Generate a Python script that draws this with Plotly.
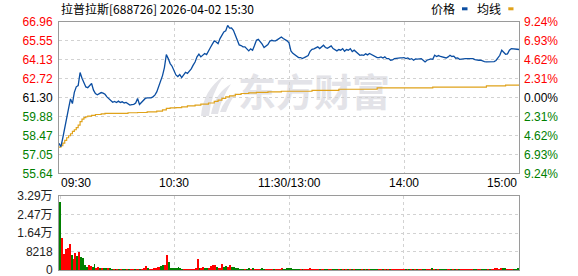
import plotly.graph_objects as go

# ---------------- data ----------------
stock_name = "拉普拉斯"
stock_code = "688726"
timestamp = "2026-04-02 15:30"
prev_close = 61.30

price_ticks = [55.64, 57.05, 58.47, 59.88, 61.30, 62.72, 64.13, 65.55, 66.96]
pct_ticks = [-9.24, -6.93, -4.62, -2.31, 0.00, 2.31, 4.62, 6.93, 9.24]
vol_ticks = [0, 8218, 16436, 24654, 32872]
vol_tick_labels = ["0", "8218", "1.64万", "2.47万", "3.29万"]
time_ticks = [0, 60, 120, 180, 240]
time_labels = ["09:30", "10:30", "11:30/13:00", "14:00", "15:00"]

# minute-by-minute price (index 0 = 09:30, 120 = 11:30/13:00, 240 = 15:00)
price = [
    57.88, 57.63, 58.30, 58.95, 59.60, 60.49, 61.20, 60.86, 61.70, 62.11,
    62.20, 63.18, 62.75, 62.45, 62.10, 62.05, 62.20, 62.36, 61.86, 61.60,
    61.52, 61.62, 61.68, 61.64, 61.55, 61.36, 61.20, 61.06, 60.95, 61.02,
    60.94, 61.04, 60.94, 60.99, 60.90, 60.94, 60.82, 60.74, 60.78, 60.80,
    60.90, 61.24, 60.79, 60.94, 61.08, 61.24, 61.28, 61.29, 61.29, 61.36,
    61.49, 61.73, 62.15, 62.65, 62.95, 63.55, 64.52, 64.22, 63.85, 63.65,
    63.35, 63.00, 62.88, 63.03, 62.80, 62.98, 63.20, 63.12, 63.30, 63.45,
    63.73, 63.97, 64.35, 64.55, 64.35, 64.48, 64.60, 64.52, 64.85, 65.05,
    65.30, 65.55, 65.47, 65.34, 65.72, 66.00, 66.22, 66.30, 66.71, 66.50,
    66.51, 66.34, 66.00, 65.70, 65.25, 65.20, 65.10, 65.10, 64.97, 64.80,
    64.95, 64.85, 65.20, 65.59, 65.67, 65.50, 65.30, 65.05, 65.20, 65.27,
    65.52, 65.59, 65.55, 65.55, 65.64, 65.77, 65.84, 65.72, 65.65, 65.55,
    65.40, 64.80, 64.62, 64.50, 64.38, 64.30, 64.30, 64.22, 64.30, 64.35,
    64.45, 64.77, 64.92, 64.95, 65.02, 65.10, 64.97, 65.10, 65.22, 65.05,
    65.00, 65.08, 65.17, 64.97, 64.90, 64.80, 64.90, 64.85, 64.97, 64.77,
    64.90, 64.85, 64.97, 64.75, 64.85, 64.72, 64.60, 64.47, 64.50, 64.47,
    64.58, 64.50, 64.60, 64.52, 64.42, 64.33, 64.30, 64.30, 64.35, 64.27,
    64.35, 64.22, 64.22, 64.10, 64.12, 64.22, 64.25, 64.27, 64.27, 64.28,
    64.30, 64.22, 64.27, 64.17, 64.22, 64.10, 64.20, 64.18, 64.18, 64.22,
    64.10, 63.97, 64.10, 64.15, 64.20, 64.17, 64.47, 64.38, 64.45, 64.38,
    64.35, 64.32, 64.27, 64.35, 64.47, 64.38, 64.40, 64.25, 64.27, 64.17,
    64.20, 64.22, 64.22, 64.22, 64.22, 64.22, 64.22, 64.15, 64.10, 64.10,
    64.10, 64.03, 64.00, 63.97, 63.97, 63.95, 63.95, 64.00, 64.08, 64.30,
    64.47, 64.85, 64.70, 64.55, 64.58, 64.85, 64.97, 64.97, 64.95, 64.92,
    64.90,
]

# average-price line (read at the minutes where it changes)
avg_minutes = [0, 1, 2, 3, 4, 5, 6, 7, 8, 9, 10, 11, 12, 13, 14, 15, 17, 19, 22, 24,
               36, 41, 46, 51, 54, 56, 58, 61, 64, 67, 71, 74, 78, 81, 83, 85, 87, 89,
               92, 95, 99, 103, 109, 116, 132, 146, 166, 195, 223, 233, 240]
avg_values = [57.60, 57.70, 57.90, 58.10, 58.30, 58.45, 58.60, 58.78, 58.90, 59.05,
              59.25, 59.50, 59.70, 59.80, 59.87, 59.92, 59.98, 60.04, 60.09, 60.12,
              60.17, 60.19, 60.24, 60.29, 60.38, 60.50, 60.54, 60.56, 60.61, 60.68,
              60.74, 60.81, 60.90, 61.02, 61.12, 61.24, 61.36, 61.44, 61.54, 61.61,
              61.66, 61.69, 61.73, 61.78, 61.84, 61.93, 62.03, 62.08, 62.18, 62.23,
              62.26]

# minute volume (shares)
volume = [
    30370, 14230, 7110, 9340, 9930, 11560, 6670, 4890, 7560, 6220,
    8000, 5780, 5340, 2220, 1330, 2220, 1780, 1330, 2670, 450,
    1330, 450, 890, 450, 450, 890, 450, 420, 400, 420,
    400, 420, 380, 400, 420, 400, 420, 380, 400, 420,
    400, 440, 400, 420, 450, 1780, 450, 420, 400, 450,
    500, 1190, 1480, 1930, 2220, 2370, 6670, 3410, 890, 450,
    450, 450, 1330, 450, 430, 420, 430, 420, 430, 440,
    430, 450, 4890, 890, 890, 1330, 450, 450, 450, 1780,
    2220, 2220, 1330, 450, 890, 2670, 1330, 1780, 1330, 2220,
    1330, 1330, 450, 450, 420, 400, 380, 420, 400, 450,
    380, 500, 420, 400, 380, 420, 450, 400, 380, 420,
    400, 440, 420, 380, 400, 420, 450, 400, 420, 520,
    520, 480, 420, 400, 380, 420, 400, 380, 360, 400,
    420, 450, 400, 380, 400, 420, 380, 400, 360, 380,
    400, 380, 360, 400, 380, 360, 400, 380, 360, 380,
    360, 380, 400, 380, 360, 400, 420, 380, 360, 400,
    380, 360, 400, 380, 360, 380, 400, 380, 360, 380,
    380, 400, 360, 420, 380, 360, 380, 360, 380, 400,
    380, 360, 400, 380, 400, 380, 360, 380, 400, 380,
    380, 420, 380, 360, 380, 450, 420, 380, 400, 380,
    360, 380, 400, 380, 400, 380, 360, 380, 360, 380,
    360, 380, 360, 380, 360, 380, 360, 400, 380, 360,
    380, 360, 400, 380, 360, 380, 400, 380, 450, 740,
    420, 890, 600, 450, 420, 400, 380, 400, 380, 360,
    590,
]
# bar colours read for the morning (r = up, g = down); later bars follow the price
vol_dir_read = ("grrrrrgrrg" "rggggrrggr" "rgrggrggrg" "rgrggrgrrg" "rrgrrrgrrr"
                "rrrggrrggg" "gggggrrrrr" "rrrgrrggrr" "rrgrrrggrr" "ggg")

# ---------------- styling ----------------
RED = "#ff0000"
GREEN = "#008000"
BLACK = "#000000"
BLUE = "#0b4ea2"
GOLD = "#e0a21a"
GRID = "#d2d2d2"
BORDER = "#9a9a9a"
NUM_FONT = "Liberation Sans, Arial, Noto Sans CJK SC"
CJK_FONT = "Noto Sans CJK SC, Liberation Sans"

W, H = 578, 276
ML, MR, MT, MB = 59, 59, 22, 6
PW, PH = W - ML - MR, H - MT - MB


def px_x(x):
    return (x - ML) / PW


def px_y(y):
    return (H - MB - y) / PH


minutes = list(range(len(price)))

bar_colors = []
for i, v in enumerate(volume):
    if i < len(vol_dir_read):
        up = vol_dir_read[i] == "r"
    else:
        up = price[i] >= price[i - 1]
    bar_colors.append(RED if up else GREEN)


def col_for(v, ref):
    if abs(v - ref) < 1e-9:
        return BLACK
    return RED if v > ref else GREEN


price_text = [f'<span style="color:{col_for(v, prev_close)}">{v:.2f}</span>' for v in price_ticks]
pct_text = [f'<span style="color:{col_for(v, 0.0)}">{abs(v):.2f}%</span>' for v in pct_ticks]

fig = go.Figure()

fig.add_trace(go.Bar(x=minutes, y=volume, marker=dict(color=bar_colors, line=dict(width=0)),
                     width=0.5, xaxis="x2", yaxis="y3", hoverinfo="skip"))
fig.add_trace(go.Scatter(x=avg_minutes, y=avg_values, mode="lines", line_shape="hv",
                         line=dict(color=GOLD, width=1.2), xaxis="x", yaxis="y", hoverinfo="skip"))
fig.add_trace(go.Scatter(x=minutes, y=price, mode="lines",
                         line=dict(color=BLUE, width=1.3), xaxis="x", yaxis="y", hoverinfo="skip"))
# invisible anchor for the percent axis
fig.add_trace(go.Scatter(x=[0], y=[0], mode="markers", marker=dict(opacity=0),
                         xaxis="x", yaxis="y2", hoverinfo="skip"))

main_bottom = px_y(173.3)
vol_top = px_y(196)

axis_common = dict(showgrid=True, gridcolor=GRID, griddash="3px,3px", gridwidth=1,
                   showline=True, linecolor=BORDER, linewidth=1, mirror=True,
                   zeroline=False, ticks="", automargin=False)

fig.update_layout(
    width=W, height=H,
    margin=dict(l=ML, r=MR, t=MT, b=MB, pad=0, autoexpand=False),
    paper_bgcolor="white", plot_bgcolor="white",
    showlegend=False, bargap=0,
    xaxis=dict(domain=[0, 1], range=[0, 240], anchor="y", tickvals=time_ticks,
               showticklabels=False, **axis_common),
    yaxis=dict(domain=[main_bottom, 1], range=[price_ticks[0], price_ticks[-1]], anchor="x",
               tickvals=price_ticks, ticktext=price_text, ticklabelstandoff=3,
               ticklabeloverflow="allow",
               tickfont=dict(family=NUM_FONT, size=12), **axis_common),
    yaxis2=dict(overlaying="y", side="right", anchor="x", range=[pct_ticks[0], pct_ticks[-1]],
                tickvals=pct_ticks, ticktext=pct_text, showgrid=False, zeroline=False,
                showline=False, ticks="", ticklabelstandoff=4, automargin=False,
                ticklabeloverflow="allow",
                tickfont=dict(family=NUM_FONT, size=12)),
    xaxis2=dict(domain=[0, 1], range=[-0.6, 240.4], anchor="y3", tickvals=time_ticks,
                showticklabels=False, **axis_common),
    yaxis3=dict(domain=[0, vol_top], range=[vol_ticks[0], vol_ticks[-1]], anchor="x2",
                tickvals=vol_ticks, ticktext=vol_tick_labels, ticklabelstandoff=3,
                ticklabeloverflow="allow",
                tickfont=dict(family=NUM_FONT, size=12, color="#222222"), **axis_common),
)

annotations = []
# title
annotations.append(dict(text=f"{stock_name}[{stock_code}] {timestamp}", xref="paper", yref="paper",
                        x=0, y=px_y(9), xanchor="left", yanchor="middle", showarrow=False,
                        font=dict(family=CJK_FONT, size=12, color=BLACK)))
# legend texts
annotations.append(dict(text="价格", xref="paper", yref="paper", x=px_x(443), y=px_y(9),
                        xanchor="center", yanchor="middle", showarrow=False,
                        font=dict(family=CJK_FONT, size=12, color=BLACK)))
annotations.append(dict(text="均线", xref="paper", yref="paper", x=px_x(488.5), y=px_y(9),
                        xanchor="center", yanchor="middle", showarrow=False,
                        font=dict(family=CJK_FONT, size=12, color=BLACK)))
# time labels
for t, lab in zip(time_ticks, time_labels):
    anchor = "left" if t == time_ticks[0] else ("right" if t == time_ticks[-1] else "center")
    annotations.append(dict(text=lab, xref="x", yref="paper", x=t, y=px_y(182.5),
                            xanchor=anchor, yanchor="middle", showarrow=False,
                            font=dict(family=NUM_FONT, size=12, color=BLACK)))
fig.update_layout(annotations=annotations)

shapes = []
# legend swatches
shapes.append(dict(type="rect", xref="paper", yref="paper", x0=px_x(462), x1=px_x(467.5),
                   y0=px_y(10.3), y1=px_y(7.3), fillcolor=BLUE, line=dict(width=0)))
shapes.append(dict(type="rect", xref="paper", yref="paper", x0=px_x(508.3), x1=px_x(513.5),
                   y0=px_y(10.3), y1=px_y(7.3), fillcolor=GOLD, line=dict(width=0)))


# watermark (logo swoosh + text)
def path_from_px(cmds):
    out = []
    for c in cmds:
        if isinstance(c, str):
            out.append(c)
        else:
            out.append(f"{px_x(c[0]):.5f},{px_y(c[1]):.5f}")
    return " ".join(out)


WM = "#e3e3e8"
swoosh1 = path_from_px(["M", (201, 116), "Q", (203, 90), (224, 76), "Q", (211, 93), (209, 116), "Z"])
swoosh2 = path_from_px(["M", (211, 114), "Q", (215, 93), (231, 84), "Q", (221, 99), (218, 114), "Z"])
swoosh3 = path_from_px(["M", (220, 112), "Q", (224, 99), (236, 93), "Q", (229, 103), (226, 112), "Z"])
for p in (swoosh1, swoosh2, swoosh3):
    shapes.append(dict(type="path", xref="paper", yref="paper", path=p, fillcolor=WM,
                       line=dict(width=0), layer="below"))
shapes.append(dict(type="rect", xref="paper", yref="paper", x0=px_x(238), x1=px_x(390),
                   y0=px_y(116), y1=px_y(74), line=dict(width=0), fillcolor="rgba(0,0,0,0)",
                   layer="below",
                   label=dict(text="东方财富", textposition="middle center",
                              font=dict(family="Noto Sans CJK SC", size=38, color=WM, weight="bold"))))
fig.update_layout(shapes=shapes)

fig.write_html("out.html")
